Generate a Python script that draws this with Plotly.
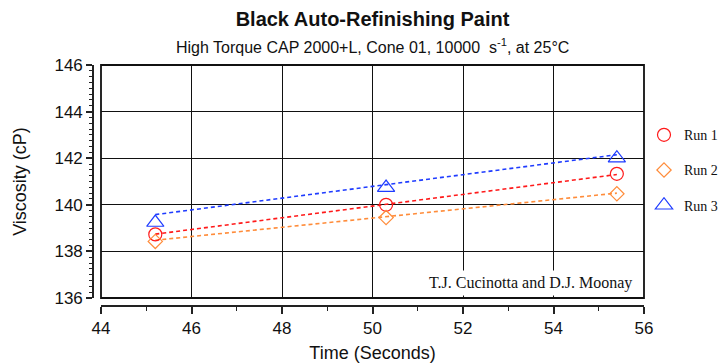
import plotly.graph_objects as go

# ---- data ----
time_s = [45.2, 50.3, 55.4]
run1 = [138.73, 140.0, 141.33]
run2 = [138.43, 139.45, 140.47]
run3 = [139.24, 140.74, 142.0]

trend_x = [45.2, 55.4]
run1_trend = [138.74, 141.3]
run2_trend = [138.48, 140.5]
run3_trend = [139.58, 142.15]

series_names = ["Run 1", "Run 2", "Run 3"]
colors = ["#ff1a1a", "#ff8c3a", "#1f3cff"]
symbols = ["circle-open", "diamond-open", "triangle-up-open"]
sizes = [13, 11, 15]

W, H = 724, 363
ML, MR, MT, MB = 93, 80, 65, 57
OFF = 8
pw = W - ML - MR
ph = H - MT - MB

fig = go.Figure()

for name, ys, tr, c in zip(series_names, [run1, run2, run3],
                           [run1_trend, run2_trend, run3_trend], colors):
    fig.add_trace(go.Scatter(x=trend_x, y=tr, mode="lines",
                             line=dict(color=c, width=1.6, dash="4px,3px"),
                             showlegend=False, hoverinfo="skip"))

for i, (name, ys, c, s, sz) in enumerate(zip(series_names, [run1, run2, run3],
                                             colors, symbols, sizes)):
    fig.add_trace(go.Scatter(x=time_s, y=ys, mode="markers", name=name,
                             legendgroup=name,
                             marker=dict(symbol=s, size=sz, color=c,
                                         line=dict(color=c, width=1.2))))

axis_font = dict(family="Liberation Sans, Arial", size=17, color="#111")

fig.update_layout(
    width=W, height=H,
    margin=dict(l=ML, r=MR, t=MT, b=MB, autoexpand=False),
    paper_bgcolor="white", plot_bgcolor="white",
    title=dict(text="<b>Black Auto-Refinishing Paint</b>",
               x=0.5 + OFF / pw / 2, xref="paper", xanchor="center",
               y=1 - 19 / H, yref="container", yanchor="middle",
               font=dict(family="Liberation Sans, Arial", size=20, color="#111")),
    xaxis=dict(range=[44, 56], domain=[OFF / pw, 1], anchor="free", position=0,
               dtick=2, tick0=44, ticks="outside", ticklen=7, tickwidth=1.5,
               tickcolor="#222", showline=True, linecolor="#222", linewidth=1.6,
               showgrid=True, gridcolor="#111", gridwidth=1.4, zeroline=False,
               minor=dict(dtick=1, ticks="outside", ticklen=4, tickwidth=1.2,
                          tickcolor="#222", showgrid=False),
               tickfont=axis_font,
               title=dict(text="Time (Seconds)", standoff=8,
                          font=dict(family="Liberation Sans, Arial", size=18, color="#111"))),
    yaxis=dict(range=[136, 146], domain=[OFF / ph, 1], anchor="free", position=0,
               dtick=2, tick0=136, ticks="outside", ticklen=6, tickwidth=1.5,
               tickcolor="#222", showline=True, linecolor="#222", linewidth=1.6,
               showgrid=True, gridcolor="#111", gridwidth=1.4, zeroline=False,
               minor=dict(dtick=0.25, ticks="outside", ticklen=3, tickwidth=1.2,
                          tickcolor="#222", showgrid=False),
               tickfont=axis_font,
               title=dict(text="Viscosity (cP)", standoff=22,
                          font=dict(family="Liberation Sans, Arial", size=18, color="#111"))),
    legend=dict(x=1.0, xanchor="left", y=0.775, yanchor="top",
                font=dict(family="Liberation Serif, Times New Roman", size=14, color="#111"),
                tracegroupgap=14, bgcolor="rgba(0,0,0,0)", itemwidth=30),
    showlegend=True,
)

# plot-area frame
fig.add_shape(type="rect", xref="x domain", yref="y domain", x0=0, x1=1, y0=0, y1=1,
              line=dict(color="#111", width=1.8), layer="above")

# subtitle
fig.add_annotation(text="High Torque CAP 2000+L, Cone 01, 10000  s<sup>-1</sup>, at 25°C",
                   xref="paper", yref="paper", x=0.5 + OFF / pw / 2, y=1 + (MT - 46) / ph,
                   xanchor="center", yanchor="middle", showarrow=False,
                   font=dict(family="Liberation Sans, Arial", size=16, color="#111"))

# credit
fig.add_annotation(text="T.J. Cucinotta and D.J. Moonay",
                   xref="x domain", yref="y domain", x=0.985, y=0.01,
                   xanchor="right", yanchor="bottom", showarrow=False,
                   bgcolor="white", borderpad=3,
                   font=dict(family="Liberation Serif, Times New Roman", size=16, color="#111"))

fig.write_html("out.html")
